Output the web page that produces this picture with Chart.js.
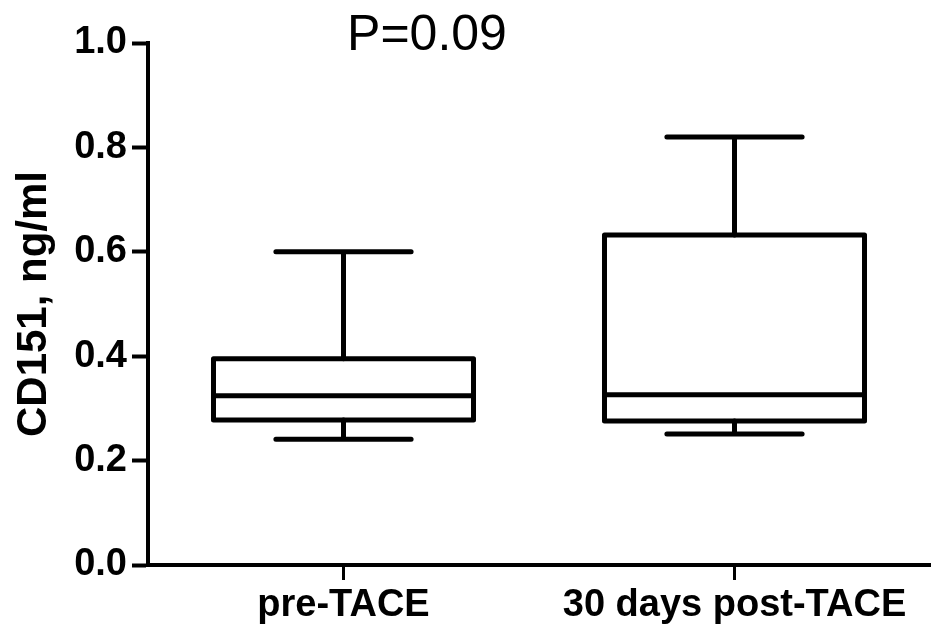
<!DOCTYPE html>
<html>
<head>
<meta charset="utf-8">
<script src="https://cdn.jsdelivr.net/npm/chart.js@4/dist/chart.umd.min.js"></script>
<style>
  html, body { margin: 0; padding: 0; background: #fff; }
  canvas { display: block; }
</style>
</head>
<body>
<canvas id="c" width="945" height="639"></canvas>
<script>
const categories = ['pre-TACE', '30 days post-TACE'];
const minVals    = [0.241, 0.251];
const q1Vals     = [0.278, 0.276];
const medianVals = [0.324, 0.326];
const q3Vals     = [0.395, 0.632];
const maxVals    = [0.600, 0.820];
const yTickValues = [0.0, 0.2, 0.4, 0.6, 0.8, 1.0];
const yAxisTitle = 'CD151, ng/ml';
const pValueText = 'P=0.09';

const FONT = '"Liberation Sans", Arial, Helvetica, sans-serif';

const boxData = categories.map((c, i) => [q1Vals[i], q3Vals[i]]);

const boxPlotPlugin = {
  id: 'boxplot',
  afterDatasetsDraw(chart) {
    const ctx = chart.ctx;
    const y = chart.scales.y;
    const meta = chart.getDatasetMeta(0);
    ctx.save();
    ctx.strokeStyle = '#000';
    ctx.lineWidth = 5;
    meta.data.forEach((el, i) => {
      const x = el.x;
      const w = el.width;
      const capHalf = w * 0.26;
      const yMin = y.getPixelForValue(minVals[i]);
      const yQ1 = y.getPixelForValue(q1Vals[i]);
      const yMed = y.getPixelForValue(medianVals[i]);
      const yQ3 = y.getPixelForValue(q3Vals[i]);
      const yMax = y.getPixelForValue(maxVals[i]);
      ctx.lineCap = 'round';
      ctx.lineJoin = 'round';
      ctx.beginPath();
      // upper whisker
      ctx.moveTo(x, yQ3); ctx.lineTo(x, yMax);
      ctx.moveTo(x - capHalf, yMax); ctx.lineTo(x + capHalf, yMax);
      // lower whisker
      ctx.moveTo(x, yQ1); ctx.lineTo(x, yMin);
      ctx.moveTo(x - capHalf, yMin); ctx.lineTo(x + capHalf, yMin);
      ctx.stroke();
      // box outline
      ctx.beginPath();
      ctx.rect(x - w / 2, yQ3, w, yQ1 - yQ3);
      ctx.stroke();
      // median
      ctx.beginPath();
      ctx.lineCap = 'butt';
      ctx.moveTo(x - w / 2, yMed); ctx.lineTo(x + w / 2, yMed);
      ctx.stroke();
    });
    ctx.restore();
  }
};

const pTextPlugin = {
  id: 'pText',
  afterDraw(chart) {
    const ctx = chart.ctx;
    ctx.save();
    ctx.fillStyle = '#000';
    ctx.font = '50px ' + FONT;
    ctx.textAlign = 'center';
    ctx.textBaseline = 'alphabetic';
    ctx.fillText(pValueText, 427, 50);
    ctx.restore();
  }
};

new Chart(document.getElementById('c'), {
  type: 'bar',
  data: {
    labels: categories,
    datasets: [{
      data: boxData,
      backgroundColor: '#fff',
      borderWidth: 0,
      barPercentage: 0.665,
      categoryPercentage: 1.0
    }]
  },
  options: {
    responsive: false,
    animation: false,
    layout: { padding: { top: 43, right: 15, bottom: 0, left: 0 } },
    plugins: { legend: { display: false }, tooltip: { enabled: false }, title: { display: false } },
    scales: {
      x: {
        type: 'category',
        offset: true,
        grid: { display: true, drawOnChartArea: false, offset: false, color: '#000', tickLength: 15, tickWidth: 3 },
        border: { display: true, color: '#000', width: 4 },
        ticks: { color: '#000', padding: 3, maxRotation: 0, font: { family: FONT, size: 38, weight: 'bold' } },
        afterFit(scale) { scale.height = 74; }
      },
      y: {
        min: 0, max: 1,
        afterBuildTicks(scale) { scale.ticks = yTickValues.map(v => ({ value: v })); },
        grid: { display: true, drawOnChartArea: false, color: '#000', tickLength: 16, tickWidth: 4 },
        border: { display: true, color: '#000', width: 4 },
        ticks: { color: '#000', padding: 5, font: { family: FONT, size: 38, weight: 'bold' }, callback: v => Number(v).toFixed(1) },
        title: { display: true, text: yAxisTitle, color: '#000', padding: { top: 9, bottom: 0 }, font: { family: FONT, size: 42, weight: 'bold' } },
        afterFit(scale) { scale.width = 148; }
      }
    }
  },
  plugins: [boxPlotPlugin, pTextPlugin]
});
</script>
</body>
</html>
